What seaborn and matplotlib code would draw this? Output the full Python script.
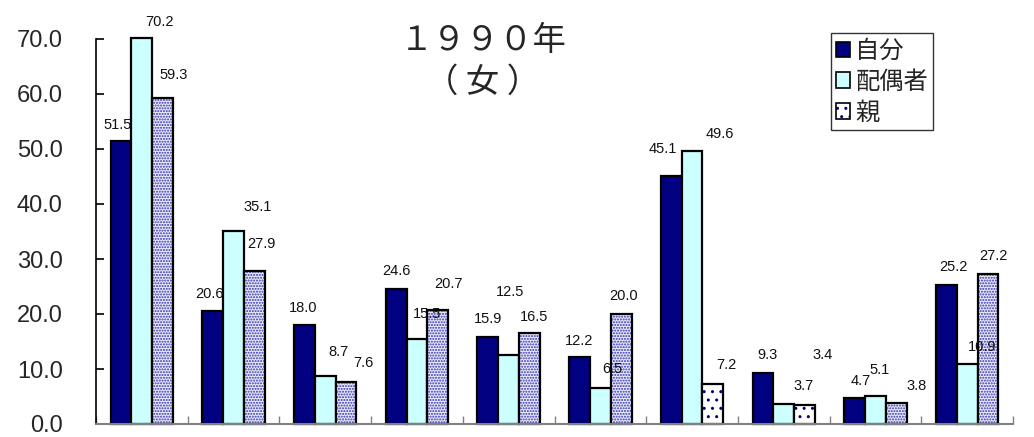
import matplotlib
matplotlib.use("Agg")
import matplotlib.pyplot as plt
from matplotlib.patches import Patch
import seaborn as sns
import pandas as pd

# Data: ten items, three respondent groups (percent)
items = [f"項目{i}" for i in range(1, 11)]
series = ["自分", "配偶者", "親"]
self_vals = [51.5, 20.6, 18.0, 24.6, 15.9, 12.2, 45.1, 9.3, 4.7, 25.2]
spouse_vals = [70.2, 35.1, 8.7, 15.5, 12.5, 6.5, 49.6, 3.7, 5.1, 10.9]
parent_vals = [59.3, 27.9, 7.6, 20.7, 16.5, 20.0, 7.2, 3.4, 3.8, 27.2]
yticks = [0, 10, 20, 30, 40, 50, 60, 70]

df = pd.DataFrame({
    "item": items * 3,
    "series": [s for s in series for _ in items],
    "value": self_vals + spouse_vals + parent_vals,
})

# Label offsets (pixels) from each bar's top centre
label_offsets = {
    "自分": [(-3, 16), (-3, 17), (-1, 17), (0, 18), (0, 18), (-1, 16), (-8, 27), (5, 18), (6, 17), (7, 18)],
    "配偶者": [(18, 16), (24, 24), (13, 24), (10, 25), (1, 63), (12, 19), (28, 17), (20, 18), (4, 26), (15, 17)],
    "親": [(11, 23), (7, 27), (17, 19), (11, 26), (5, 16), (2, 18), (14, 19), (18, 50), (20, 17), (6, 18)],
}

sns.set_theme(style="white")
plt.rcParams["font.family"] = ["Liberation Sans", "Noto Sans CJK JP", "DejaVu Sans"]
plt.rcParams["hatch.linewidth"] = 1.0

fig = plt.figure(figsize=(10.34, 4.37), dpi=100)
ax = fig.add_axes([96 / 1034, 1 - 424 / 437, (1013 - 96) / 1034, (424 - 39) / 437])

palette = {"自分": "#000080", "配偶者": "#ccffff", "親": "#ffffff"}
sns.barplot(data=df, x="item", y="value", hue="series", hue_order=series,
            order=items, palette=palette, width=0.68, edgecolor="black",
            linewidth=1.6, saturation=1, legend=False, ax=ax)

for cont in ax.containers:
    for bar in cont:
        bar.set_clip_on(False)

# dotted fill for the parent bars
parent_bars = ax.containers[2]
for i, bar in enumerate(parent_bars):
    bar.set_facecolor("#ececfa")
    bar.set_hatch("......")
    bar._hatch_color = matplotlib.colors.to_rgba("#3030b0")
    if i in (6, 7):
        bar.set_facecolor("white")
        bar.set_hatch("..")
        bar._hatch_color = matplotlib.colors.to_rgba("#000080")

# value labels
for cont, name in zip(ax.containers, series):
    for bar, (dx, dy) in zip(cont, label_offsets[name]):
        v = bar.get_height()
        ax.annotate(f"{v:.1f}", (bar.get_x() + bar.get_width() / 2, v),
                    xytext=(dx, dy), textcoords="offset pixels",
                    ha="center", va="center", fontsize=10.5, color="#111111",
                    annotation_clip=False)

ax.set_ylim(0, 70)
ax.set_xlim(-0.5, len(items) - 0.5)
ax.set_yticks(yticks)
ax.set_yticklabels([f"{t:.1f}" for t in yticks], fontsize=17)
ax.tick_params(axis="y", direction="in", length=6, width=1.2, color="black", pad=24, left=True)
ax.set_xticks([i - 0.5 for i in range(len(items) + 1)])
ax.set_xticklabels([])
ax.tick_params(axis="x", direction="in", length=6, width=1.0, color="#808080", bottom=True)
ax.set_xlabel("")
ax.set_ylabel("")

for side in ("top", "right"):
    ax.spines[side].set_visible(False)
ax.spines["left"].set_color("black")
ax.spines["left"].set_linewidth(1.2)
ax.spines["bottom"].set_color("#808080")
ax.spines["bottom"].set_linewidth(1.5)

fig.text(483 / 1034, 1 - 61 / 437, "１９９０年\n（ 女 ）", ha="center", va="center",
         fontsize=24, family=["Noto Sans CJK JP"], linespacing=1.25)

handles = [
    Patch(facecolor="#000080", edgecolor="black", linewidth=1.2),
    Patch(facecolor="#ccffff", edgecolor="black", linewidth=1.2),
    Patch(facecolor="white", edgecolor="black", linewidth=1.2, hatch=".."),
]
leg = fig.legend(handles, series, loc="upper left",
                 bbox_to_anchor=(831 / 1034, 1 - 33 / 437),
                 prop={"family": ["Noto Sans CJK JP"], "size": 17.5},
                 frameon=True, fancybox=False, edgecolor="black",
                 handlelength=0.6, handleheight=0.6, handletextpad=0.2,
                 labelspacing=0.2, borderpad=0.2, borderaxespad=0)
leg.get_frame().set_linewidth(1.0)
leg.legend_handles[2]._hatch_color = matplotlib.colors.to_rgba("#000080")

fig.savefig("out.png", dpi=100)
